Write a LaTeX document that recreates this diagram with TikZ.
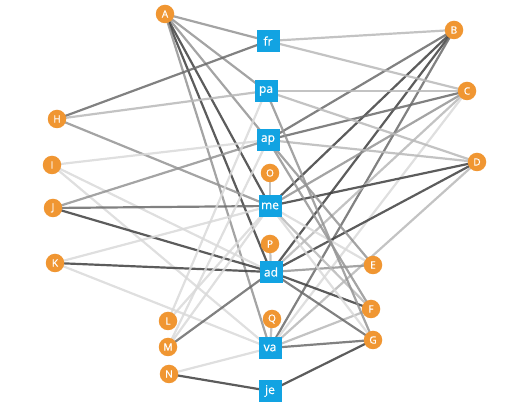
\documentclass[tikz,border=0pt]{standalone}
\usepackage{fontspec}
\newfontfamily\lblfont[FakeBold=0.7]{Open Sans}
\usetikzlibrary{backgrounds}
\definecolor{nodeorange}{RGB}{240,150,50}
\definecolor{nodeblue}{RGB}{18,163,226}
\begin{document}
\begin{tikzpicture}[x=1pt,y=-1pt,
  letter/.style={circle,fill=nodeorange,text=white,font=\lblfont\fontsize{10}{10}\selectfont,minimum size=18.5pt,inner sep=0pt},
  word/.style={rectangle,fill=nodeblue,text=white,font=\lblfont\fontsize{12}{12}\selectfont,minimum width=23pt,minimum height=22pt,inner sep=0pt},
  lnk/.style={line width=2.2pt,draw opacity=0.85},
  ga/.style={lnk,draw=black!15},
  gb/.style={lnk,draw=black!28},
  gc/.style={lnk,draw=black!42},
  gd/.style={lnk,draw=black!58},
  ge/.style={lnk,draw=black!75}]
\useasboundingbox (0,0) rectangle (528,411);
% word nodes
\node[word] (fr) at (268,41) {fr};
\node[word] (pa) at (266,91) {pa};
\node[word] (ap) at (268,140) {ap};
\node[word] (me) at (270,206) {me};
\node[word] (ad) at (271,272) {ad};
\node[word] (va) at (270,348) {va};
\node[word] (je) at (270,391) {je};
% letter nodes
\node[letter] (A) at (165,14) {A};
\node[letter] (B) at (454,30) {B};
\node[letter] (C) at (467,91) {C};
\node[letter] (D) at (477,162) {D};
\node[letter] (E) at (373,265) {E};
\node[letter] (F) at (371,309) {F};
\node[letter] (G) at (373,340) {G};
\node[letter] (H) at (57,119) {H};
\node[letter] (I) at (52,165) {I};
\node[letter] (J) at (53,208) {J};
\node[letter] (K) at (55,263) {K};
\node[letter] (L) at (168,321) {L};
\node[letter] (M) at (168,347) {M};
\node[letter] (N) at (169,374) {N};
\node[letter] (O) at (270,173) {O};
\node[letter] (P) at (270,244) {P};
\node[letter] (Q) at (272,319) {Q};
\begin{pgfonlayer}{background}
% A
\draw[gc] (A.center) -- (fr.center);
\draw[gc] (A.center) -- (pa.center);
\draw[gc] (A.center) -- (ap.center);
\draw[ge] (A.center) -- (me.center);
\draw[ge] (A.center) -- (ad.center);
\draw[gc] (A.center) -- (va.center);
% B
\draw[gb] (B.center) -- (fr.center);
\draw[gd] (B.center) -- (ap.center);
\draw[ge] (B.center) -- (me.center);
\draw[ge] (B.center) -- (ad.center);
\draw[gd] (B.center) -- (va.center);
% C
\draw[gb] (C.center) -- (fr.center);
\draw[gb] (C.center) -- (pa.center);
\draw[gd] (C.center) -- (ap.center);
\draw[gc] (C.center) -- (me.center);
\draw[gb] (C.center) -- (ad.center);
\draw[ga] (C.center) -- (va.center);
% D
\draw[gb] (D.center) -- (pa.center);
\draw[gb] (D.center) -- (ap.center);
\draw[ge] (D.center) -- (me.center);
\draw[ge] (D.center) -- (ad.center);
\draw[gb] (D.center) -- (va.center);
% E
\draw[gc] (E.center) -- (ap.center);
\draw[gc] (E.center) -- (ad.center);
\draw[ga] (E.center) -- (me.center);
% F
\draw[gc] (F.center) -- (ap.center);
\draw[ge] (F.center) -- (ad.center);
\draw[gb] (F.center) -- (va.center);
\draw[gb] (F.center) -- (me.center);
% G
\draw[gc] (G.center) -- (pa.center);
\draw[gd] (G.center) -- (ad.center);
\draw[gd] (G.center) -- (va.center);
\draw[ge] (G.center) -- (je.center);
\draw[ga] (G.center) -- (me.center);
% H
\draw[gd] (H.center) -- (fr.center);
\draw[gb] (H.center) -- (pa.center);
\draw[gc] (H.center) -- (me.center);
% I
\draw[ga] (I.center) -- (ap.center);
\draw[ga] (I.center) -- (ad.center);
\draw[ga] (I.center) -- (va.center);
% J
\draw[gc] (J.center) -- (ap.center);
\draw[gd] (J.center) -- (me.center);
\draw[ge] (J.center) -- (ad.center);
% K
\draw[ga] (K.center) -- (me.center);
\draw[ge] (K.center) -- (ad.center);
\draw[ga] (K.center) -- (va.center);
% L
\draw[ga] (L.center) -- (pa.center);
\draw[ga] (L.center) -- (me.center);
% M
\draw[ga] (M.center) -- (ap.center);
\draw[ga] (M.center) -- (me.center);
\draw[gd] (M.center) -- (ad.center);
% N
\draw[ga] (N.center) -- (va.center);
\draw[ge] (N.center) -- (je.center);
% O P Q
\draw[gb] (O.center) -- (me.center);
\draw[gb] (P.center) -- (ad.center);
\draw[gb] (Q.center) -- (va.center);
\end{pgfonlayer}
\end{tikzpicture}
\end{document}
